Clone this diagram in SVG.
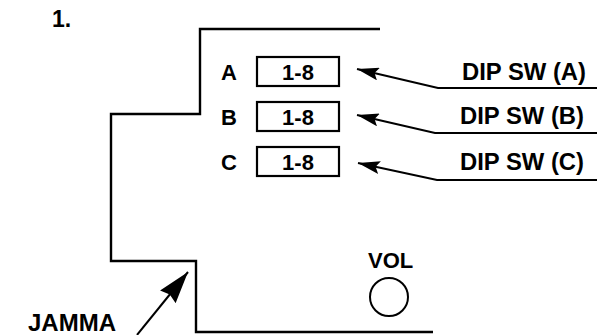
<svg xmlns="http://www.w3.org/2000/svg" width="597" height="335" viewBox="0 0 597 335">
<style>
.t{font-family:"Liberation Sans",Arial,sans-serif;font-weight:bold;fill:#000}
.ln{fill:none;stroke:#000;stroke-width:2.4;stroke-linejoin:miter}
.cn{fill:none;stroke:#000;stroke-width:2}
.box{fill:#fff;stroke:#000;stroke-width:2.2}
.c{fill:none;stroke:#000;stroke-width:2}
</style>
<defs>
<marker id="ah" viewBox="0 0 22 13" refX="22" refY="6.5" markerWidth="22" markerHeight="13" markerUnits="userSpaceOnUse" orient="auto">
<path d="M0,0 L22,6.5 L0,13 L4,6.5 Z" fill="#000"/>
</marker>
<marker id="ahj" viewBox="0 0 32 20" refX="32" refY="10" markerWidth="32" markerHeight="20" markerUnits="userSpaceOnUse" orient="auto">
<path d="M0,0 L32,10 L0,20 L3,10 Z" fill="#000"/>
</marker>
</defs>
<rect width="597" height="335" fill="#fff"/>
<text class="t" x="52" y="27" font-size="23">1.</text>
<g id="board">
<path class="ln" d="M380,29 H200 V114 H111 V261 H196 V332 H433"/>
</g>
<g id="dipA">
<text class="t" x="221" y="80" font-size="22">A</text>
<rect class="box" x="257" y="57" width="82" height="29"/>
<text class="t" x="298" y="80" font-size="22" text-anchor="middle">1-8</text>
</g>
<g id="dipB">
<text class="t" x="221" y="125" font-size="22">B</text>
<rect class="box" x="257" y="102" width="82" height="29"/>
<text class="t" x="298" y="125" font-size="22" text-anchor="middle">1-8</text>
</g>
<g id="dipC">
<text class="t" x="221" y="170" font-size="22">C</text>
<rect class="box" x="257" y="147" width="82" height="29"/>
<text class="t" x="298" y="170" font-size="22" text-anchor="middle">1-8</text>
</g>
<g id="labelA"><text class="t" x="462" y="80" font-size="23" textLength="124" lengthAdjust="spacingAndGlyphs">DIP SW (A)</text></g>
<g id="labelB"><text class="t" x="460" y="124" font-size="23" textLength="124" lengthAdjust="spacingAndGlyphs">DIP SW (B)</text></g>
<g id="labelC"><text class="t" x="460" y="170" font-size="23" textLength="124" lengthAdjust="spacingAndGlyphs">DIP SW (C)</text></g>
<g id="vol">
<text class="t" x="368" y="268" font-size="22">VOL</text>
<circle class="c" cx="389" cy="297" r="19"/>
</g>
<g id="jamma"><text class="t" x="28" y="331" font-size="24">JAMMA</text></g>
<g id="connectors">
<polyline class="cn" points="597,88 438,88 357,69" marker-end="url(#ah)"/>
<polyline class="cn" points="597,133 435,133 357,115" marker-end="url(#ah)"/>
<polyline class="cn" points="597,180 437,180 358,163" marker-end="url(#ah)"/>
<line class="cn" x1="137" y1="335" x2="188" y2="272" marker-end="url(#ahj)"/>
</g>
</svg>
